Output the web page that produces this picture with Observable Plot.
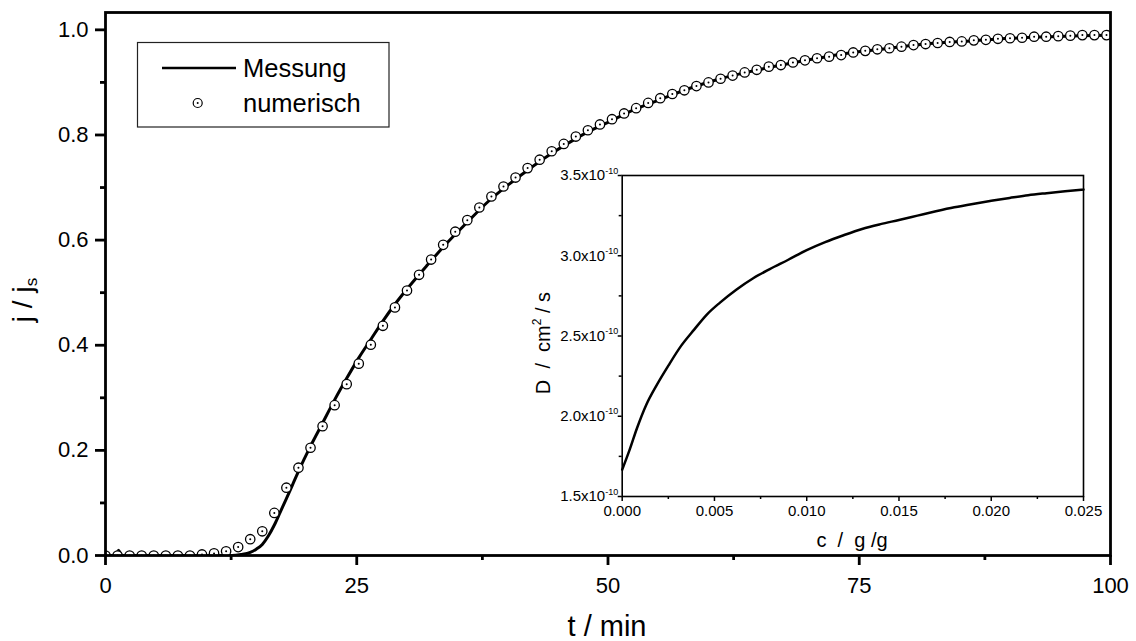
<!DOCTYPE html>
<html><head><meta charset="utf-8">
<script src="https://cdn.jsdelivr.net/npm/d3@7"></script>
<script src="https://cdn.jsdelivr.net/npm/@observablehq/plot@0.6"></script>
<style>
body{margin:0;background:#fff;}
#wrap{position:relative;width:1136px;height:641px;font-family:"Liberation Sans",Arial,sans-serif;}
#wrap svg{position:absolute;}
</style></head><body><div id="wrap"></div>
<script>
// ---- main chart data ----
const messT = [0, 1.0, 1.3, 1.6, 12.6, 13.5, 14.4, 15.0, 15.6, 16.2, 16.8, 17.4, 18.0, 18.6, 19.2, 20.4, 21.6, 22.8, 24.0, 25.2, 26.4, 27.6, 28.8, 30.0, 32, 34, 36, 38, 40, 42, 44, 46, 48, 50, 52, 55, 58, 61, 64, 67, 70, 74, 78, 82, 86, 90, 94, 97, 100];
const messJ = [0, 0, 0.01, 0, 0, 0.002, 0.006, 0.012, 0.021, 0.037, 0.058, 0.083, 0.108, 0.134, 0.16, 0.208, 0.252, 0.296, 0.337, 0.376, 0.411, 0.446, 0.478, 0.507, 0.552, 0.595, 0.634, 0.672, 0.704, 0.733, 0.760, 0.784, 0.806, 0.824, 0.843, 0.866, 0.888, 0.906, 0.920, 0.932, 0.943, 0.956, 0.965, 0.974, 0.979, 0.984, 0.987, 0.989, 0.990];
const numT = [0,1.2,2.4,3.6,4.8,6,7.2,8.4,9.6,10.8,12,13.2,14.4,15.6,16.8,18,19.2,20.4,21.6,22.8,24,25.2,26.4,27.6,28.8,30,31.2,32.4,33.6,34.8,36,37.2,38.4,39.6,40.8,42,43.2,44.4,45.6,46.8,48,49.2,50.4,51.6,52.8,54,55.2,56.4,57.6,58.8,60,61.2,62.4,63.6,64.8,66,67.2,68.4,69.6,70.8,72,73.2,74.4,75.6,76.8,78,79.2,80.4,81.6,82.8,84,85.2,86.4,87.6,88.8,90,91.2,92.4,93.6,94.8,96,97.2,98.4,99.6];
const numJ = [0,0,0,0,0,0,0,0,0.002,0.004,0.008,0.016,0.031,0.046,0.081,0.129,0.167,0.205,0.246,0.286,0.326,0.365,0.401,0.437,0.472,0.504,0.534,0.563,0.591,0.616,0.638,0.662,0.683,0.702,0.719,0.737,0.753,0.769,0.783,0.797,0.809,0.820,0.830,0.841,0.851,0.861,0.870,0.878,0.885,0.893,0.900,0.907,0.913,0.919,0.924,0.930,0.933,0.938,0.942,0.946,0.949,0.952,0.957,0.960,0.963,0.965,0.968,0.971,0.973,0.975,0.977,0.978,0.980,0.981,0.983,0.984,0.985,0.987,0.987,0.988,0.989,0.990,0.990,0.990];
const xTicks = [0, 25, 50, 75, 100];
const xMinor = [12.5, 37.5, 62.5, 87.5];
const yTicks = [0, 0.2, 0.4, 0.6, 0.8, 1.0];
const yMinor = [0.1, 0.3, 0.5, 0.7, 0.9];
const seriesNames = ["Messung", "numerisch"];

// ---- inset data (D in units of 1e-10 cm^2/s) ----
const insetC = [0, 0.0004, 0.0008, 0.0013, 0.0019, 0.0025, 0.0032, 0.0039, 0.0046, 0.0053, 0.0062, 0.0071, 0.008, 0.009, 0.010, 0.011, 0.012, 0.013, 0.014, 0.015, 0.016, 0.017, 0.018, 0.019, 0.020, 0.021, 0.022, 0.023, 0.024, 0.025];
const insetD = [1.667, 1.79, 1.925, 2.07, 2.2, 2.315, 2.44, 2.54, 2.635, 2.708, 2.79, 2.86, 2.917, 2.975, 3.035, 3.085, 3.128, 3.167, 3.197, 3.223, 3.25, 3.277, 3.302, 3.323, 3.342, 3.36, 3.377, 3.39, 3.402, 3.412];
const insetXTicks = [0, 0.005, 0.010, 0.015, 0.020, 0.025];
const insetXMinor = [0.0025, 0.0075, 0.0125, 0.0175, 0.0225];
const insetYTicks = [1.5, 2.0, 2.5, 3.0, 3.5];
const insetYMinor = [1.75, 2.25, 2.75, 3.25];

const mess = messT.map((t, i) => ({t, j: messJ[i]}));
const num = numT.map((t, i) => ({t, j: numJ[i]}));
const ins = insetC.map((c, i) => ({c, D: insetD[i]}));

const FONT = '"Liberation Sans", Arial, sans-serif';
const wrap = document.getElementById("wrap");

const main = Plot.plot({
  width: 1136, height: 641,
  marginLeft: 105, marginRight: 26, marginTop: 12, marginBottom: 86,
  style: {fontFamily: FONT, color: "#000", background: "#fff"},
  x: {domain: [0, 100], label: null},
  y: {domain: [0, 1.033], label: null},
  marks: [
    Plot.line(mess, {x: "t", y: "j", stroke: "#000", strokeWidth: 3, curve: "monotone-x", clip: true}),
    Plot.dot(num, {x: "t", y: "j", r: 4.7, stroke: "#000", strokeWidth: 1.3, fill: "#fff", clip: true}),
    Plot.dot(num, {x: "t", y: "j", r: 1, fill: "#000", stroke: null, clip: true}),
    Plot.axisX(xTicks, {tickSize: 10, tickPadding: 12, strokeWidth: 2.8, fontSize: 22, label: null, tickFormat: d => String(d)}),
    Plot.axisX(xMinor, {tickSize: 5, strokeWidth: 2.8, label: null, tickFormat: () => ""}),
    Plot.axisY(yTicks, {tickSize: 10, tickPadding: 7, strokeWidth: 2.8, fontSize: 22, label: null, tickFormat: d => d.toFixed(1)}),
    Plot.axisY(yMinor, {tickSize: 5, strokeWidth: 2.8, label: null, tickFormat: () => ""}),
    Plot.frame({stroke: "#000", strokeWidth: 2.8})
  ]
});
main.style.left = "0px"; main.style.top = "0px";
wrap.appendChild(main);

const ms = d3.select(main);
// axis titles
ms.append("text").attr("x", 607).attr("y", 636).attr("text-anchor", "middle")
  .attr("font-family", FONT).attr("font-size", 29).text("t / min");
const jl = ms.append("text").attr("transform", "translate(32,300) rotate(-90)").attr("text-anchor", "middle")
  .attr("font-family", FONT).attr("font-size", 28);
jl.append("tspan").text("j / j");
jl.append("tspan").attr("font-size", 17).attr("dy", "0.3em").text("s");

// legend
const lg = ms.append("g");
lg.append("rect").attr("x", 137.5).attr("y", 42.5).attr("width", 251.5).attr("height", 84.5)
  .attr("fill", "#fff").attr("stroke", "#222").attr("stroke-width", 1.2);
lg.append("line").attr("x1", 162).attr("x2", 236).attr("y1", 68).attr("y2", 68)
  .attr("stroke", "#000").attr("stroke-width", 2.5);
lg.append("circle").attr("cx", 197.7).attr("cy", 103).attr("r", 4.5).attr("fill", "#fff").attr("stroke", "#000").attr("stroke-width", 1.2);
lg.append("circle").attr("cx", 197.7).attr("cy", 103).attr("r", 1).attr("fill", "#000");
lg.append("text").attr("x", 243).attr("y", 76.5).attr("text-anchor", "start").attr("font-family", FONT).attr("font-size", 25.5).text(seriesNames[0]);
lg.append("text").attr("x", 243).attr("y", 111.5).attr("text-anchor", "start").attr("font-family", FONT).attr("font-size", 25.5).text(seriesNames[1]);

// ---- inset ----
const IL = 520, IT = 160, IW = 580, IH = 380;
const inset = Plot.plot({
  width: IW, height: IH,
  marginLeft: 621.7 - IL, marginRight: IL + IW - 1083, marginTop: 175 - IT, marginBottom: IT + IH - 496,
  style: {fontFamily: FONT, color: "#000", background: "transparent", overflow: "visible"},
  x: {domain: [0, 0.025], label: null},
  y: {domain: [1.5, 3.5], label: null},
  marks: [
    Plot.frame({fill: "#fff", stroke: null}),
    Plot.line(ins, {x: "c", y: "D", stroke: "#000", strokeWidth: 2.5, curve: "monotone-x"}),
    Plot.axisX(insetXTicks, {tickSize: 5, tickPadding: 4, strokeWidth: 1.5, fontSize: 15, label: null, tickFormat: d => d.toFixed(3)}),
    Plot.axisX(insetXMinor, {tickSize: 3, strokeWidth: 1.5, label: null, tickFormat: () => ""}),
    Plot.axisY(insetYTicks, {tickSize: 4, tickPadding: 0, strokeWidth: 1.5, fontSize: 15, label: null, tickFormat: d => d.toFixed(1) + "x10"}),
    Plot.axisY(insetYMinor, {tickSize: 3, strokeWidth: 1.5, label: null, tickFormat: () => ""}),
    Plot.frame({stroke: "#000", strokeWidth: 1.6})
  ]
});
inset.style.left = IL + "px"; inset.style.top = IT + "px";
wrap.appendChild(inset);

const is = d3.select(inset);
// superscript exponents on inset y tick labels
is.selectAll("text").each(function() {
  const s = this.textContent;
  if (/x10$/.test(s)) {
    d3.select(this).append("tspan").attr("font-size", 9).attr("dy", "-0.75em").text("-10");
  }
});
// inset axis titles
is.append("text").attr("x", 852 - IL).attr("y", 547 - IT).attr("text-anchor", "middle")
  .attr("font-family", FONT).attr("font-size", 20).attr("xml:space", "preserve").text("c  /  g /g");
const dl = is.append("text").attr("transform", `translate(${550 - IL},${343 - IT}) rotate(-90)`).attr("text-anchor", "middle")
  .attr("font-family", FONT).attr("font-size", 20).attr("xml:space", "preserve");
dl.append("tspan").text("D  /  cm");
dl.append("tspan").attr("font-size", 12).attr("dy", "-0.75em").text("2");
dl.append("tspan").attr("dy", "0.45em").text(" / s");
</script></body></html>
